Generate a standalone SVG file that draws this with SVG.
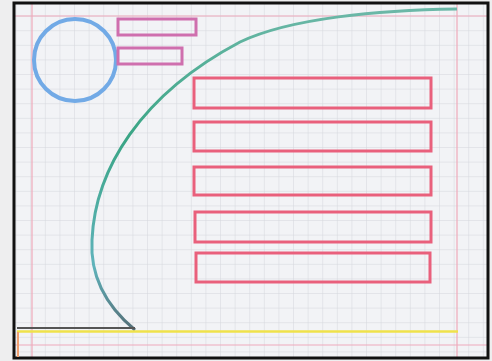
<svg xmlns="http://www.w3.org/2000/svg" width="492" height="361" viewBox="0 0 492 361">
<defs>
<style>
.margin{stroke:#eeaabb;stroke-width:1.2;fill:none}
.small{fill:none;stroke:#cf6fae;stroke-width:3}
.big{fill:none;stroke:#e9607c;stroke-width:3}
</style>
<pattern id="gp" x="2" y="2" width="14.6" height="14.6" patternUnits="userSpaceOnUse">
<path d="M14.6 0V14.6H0" fill="none" stroke="#d4d6dc" stroke-width="1"/>
</pattern>
<linearGradient id="cg" gradientUnits="userSpaceOnUse" x1="0" y1="330" x2="0" y2="8">
<stop offset="0" stop-color="#556f78"/>
<stop offset="0.2" stop-color="#5fb3bb"/>
<stop offset="0.6" stop-color="#3aa585"/>
<stop offset="1" stop-color="#6cb8a8"/>
</linearGradient>
</defs>
<rect width="492" height="361" fill="#eeeeef"/>
<rect x="14" y="3" width="474" height="355" fill="#f2f3f6"/>
<rect x="14" y="3" width="474" height="355" fill="url(#gp)"/>
<g id="margins">
<line class="margin" x1="32" y1="3" x2="32" y2="358"/>
<line class="margin" x1="457" y1="3" x2="457" y2="358"/>
<line class="margin" x1="14" y1="16" x2="488" y2="16"/>
<line class="margin" x1="14" y1="345" x2="488" y2="345"/>
</g>
<rect x="14" y="3" width="474" height="355" fill="none" stroke="#111" stroke-width="3"/>
<g id="circle"><circle cx="75" cy="60" r="41" fill="none" stroke="#72aae6" stroke-width="4"/></g>
<g id="small1"><rect class="small" x="118" y="19" width="78" height="16"/></g>
<g id="small2"><rect class="small" x="118" y="48" width="64" height="16"/></g>
<g id="box1"><rect class="big" x="194" y="78" width="237" height="30"/></g>
<g id="box2"><rect class="big" x="194" y="122" width="237" height="29"/></g>
<g id="box3"><rect class="big" x="194" y="167" width="237" height="28"/></g>
<g id="box4"><rect class="big" x="195" y="212" width="236" height="30"/></g>
<g id="box5"><rect class="big" x="196" y="253" width="234" height="29"/></g>
<g id="curve"><path d="M135,330 C105,305 90,275 92,240 C95,170 140,95 240,42 C290,18 380,10 457,9" fill="none" stroke="url(#cg)" stroke-width="3"/></g>
<g id="baseline">
<line x1="17" y1="328" x2="135" y2="328" stroke="#555" stroke-width="2"/>
<line x1="17" y1="331.5" x2="458" y2="331.5" stroke="#efe24a" stroke-width="2.5"/>
<line x1="18" y1="332" x2="18" y2="357" stroke="#f0a070" stroke-width="2"/>
</g>
</svg>
